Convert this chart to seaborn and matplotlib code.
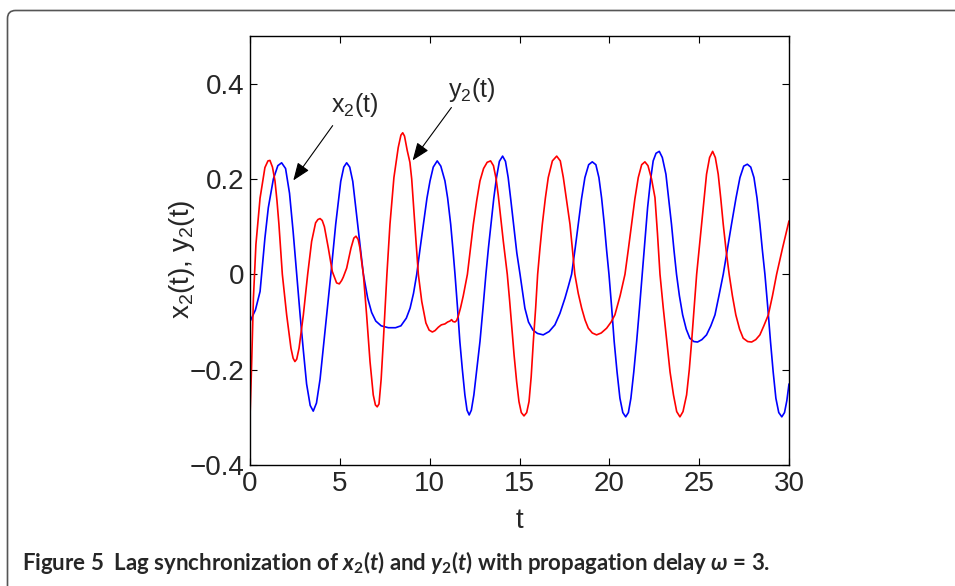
import matplotlib
matplotlib.use('Agg')
import matplotlib.pyplot as plt
import seaborn as sns
from matplotlib.patches import FancyBboxPatch
from matplotlib.transforms import IdentityTransform

# x2(t) (blue), values
t_x2 = [0, 0.3, 0.56, 0.83, 1.02, 1.3, 1.55, 1.76, 1.98, 2.2, 2.4, 2.6, 2.8, 2.97, 3.15, 3.35, 3.52,
        3.7, 3.9, 4.17, 4.5, 4.77, 5.05, 5.22, 5.38, 5.55, 5.72, 5.99, 6.31, 6.55, 6.77, 7.0, 7.3,
        7.7, 8.1, 8.4, 8.7, 8.91, 9.1, 9.28, 9.47, 9.65, 9.85, 10.02, 10.2, 10.42, 10.62, 10.85,
        11.0, 11.17, 11.3, 11.41, 11.55, 11.68, 11.82, 11.96, 12.08, 12.2, 12.32, 12.46, 12.62,
        12.8, 12.97, 13.13, 13.27, 13.41, 13.57, 13.72, 13.88, 14.06, 14.22, 14.37, 14.52, 14.67,
        14.85, 15.03, 15.3, 15.5, 15.75, 16.0, 16.32, 16.65, 16.97, 17.25, 17.53, 17.72, 17.9,
        18.1, 18.27, 18.45, 18.64, 18.85, 19.05, 19.25, 19.42, 19.57, 19.72, 19.85, 19.98, 20.13,
        20.27, 20.43, 20.59, 20.75, 20.91, 21.06, 21.2, 21.36, 21.52, 21.68, 21.83, 21.98, 22.13,
        22.3, 22.44, 22.6, 22.78, 22.95, 23.15, 23.3, 23.46, 23.6, 23.74, 23.9, 24.08, 24.28,
        24.48, 24.7, 24.91, 25.15, 25.41, 25.65, 25.88, 26.1, 26.34, 26.57, 26.8, 27.05, 27.27,
        27.48, 27.68, 27.87, 28.05, 28.22, 28.38, 28.52, 28.66, 28.82, 28.97, 29.12, 29.27,
        29.43, 29.6, 29.75, 29.88, 30.0]
x2 = [-0.099, -0.075, -0.036, 0.076, 0.14, 0.2, 0.228, 0.234, 0.222, 0.17, 0.09, 0.0, -0.09, -0.16,
      -0.23, -0.275, -0.287, -0.27, -0.22, -0.12, 0.0, 0.105, 0.195, 0.225, 0.234, 0.225, 0.195,
      0.105, 0.0, -0.05, -0.08, -0.098, -0.108, -0.112, -0.112, -0.108, -0.092, -0.071, -0.04,
      0.0, 0.055, 0.105, 0.16, 0.196, 0.225, 0.238, 0.227, 0.196, 0.16, 0.105, 0.05, 0.0, -0.07,
      -0.141, -0.2, -0.253, -0.285, -0.295, -0.285, -0.253, -0.2, -0.141, -0.07, 0.0, 0.055,
      0.105, 0.16, 0.203, 0.237, 0.248, 0.237, 0.203, 0.155, 0.105, 0.045, 0.0, -0.071, -0.1,
      -0.117, -0.124, -0.127, -0.12, -0.106, -0.082, -0.05, -0.025, 0.0, 0.055, 0.105, 0.158,
      0.203, 0.23, 0.236, 0.23, 0.203, 0.16, 0.105, 0.05, 0.0, -0.07, -0.141, -0.205, -0.26,
      -0.29, -0.299, -0.29, -0.26, -0.205, -0.141, -0.07, 0.0, 0.07, 0.14, 0.2, 0.238, 0.254,
      0.258, 0.245, 0.21, 0.16, 0.105, 0.05, 0.0, -0.045, -0.085, -0.115, -0.134, -0.141,
      -0.142, -0.137, -0.127, -0.108, -0.085, -0.045, 0.0, 0.053, 0.105, 0.16, 0.203, 0.227,
      0.231, 0.225, 0.203, 0.16, 0.105, 0.05, 0.0, -0.07, -0.141, -0.205, -0.26, -0.29, -0.299,
      -0.29, -0.265, -0.23]

# y2(t) (red)
t_y2 = [0, 0.09, 0.19, 0.33, 0.56, 0.83, 1.0, 1.11, 1.25, 1.39, 1.5, 1.61, 1.8, 2.04, 2.28, 2.4,
        2.5, 2.6, 2.73, 2.97, 3.21, 3.43, 3.65, 3.78, 3.9, 4.02, 4.14, 4.36, 4.58, 4.82, 4.97,
        5.1, 5.19, 5.38, 5.62, 5.78, 5.9, 6.02, 6.12, 6.22, 6.31, 6.49, 6.68, 6.86, 6.98, 7.08,
        7.18, 7.3, 7.42, 7.52, 7.62, 7.79, 8.01, 8.25, 8.4, 8.5, 8.6, 8.75, 8.9, 9.0, 9.09, 9.24,
        9.37, 9.56, 9.79, 9.97, 10.15, 10.3, 10.48, 10.65, 10.85, 11.0, 11.13, 11.22, 11.3,
        11.41, 11.5, 11.59, 11.72, 11.87, 12.1, 12.43, 12.62, 12.8, 13.0, 13.2, 13.39, 13.55,
        13.7, 13.82, 13.95, 14.1, 14.32, 14.45, 14.56, 14.7, 14.84, 14.97, 15.1, 15.25, 15.4,
        15.53, 15.65, 15.77, 15.9, 16.01, 16.14, 16.27, 16.44, 16.6, 16.83, 17.07, 17.27, 17.44,
        17.62, 17.81, 17.95, 18.08, 18.27, 18.46, 18.65, 18.83, 19.05, 19.29, 19.55, 19.85,
        20.1, 20.31, 20.6, 20.87, 21.06, 21.24, 21.42, 21.61, 21.8, 21.98, 22.15, 22.35, 22.54,
        22.68, 22.82, 23.0, 23.2, 23.38, 23.57, 23.75, 23.93, 24.1, 24.3, 24.45, 24.58, 24.72,
        24.86, 25.0, 25.14, 25.28, 25.41, 25.58, 25.75, 25.9, 26.06, 26.2, 26.34, 26.5, 26.67,
        26.85, 27.04, 27.25, 27.45, 27.7, 27.92, 28.15, 28.38, 28.6, 28.85, 29.08, 29.31,
        29.64, 30.0]
y2 = [-0.299, -0.19, -0.05, 0.063, 0.16, 0.224, 0.238, 0.239, 0.225, 0.196, 0.155, 0.105, 0.0,
      -0.085, -0.155, -0.176, -0.183, -0.178, -0.155, -0.085, 0.0, 0.069, 0.108, 0.115, 0.117,
      0.113, 0.1, 0.055, 0.006, -0.018, -0.02, -0.013, -0.006, 0.013, 0.055, 0.076, 0.08, 0.073,
      0.055, 0.025, 0.0, -0.085, -0.183, -0.253, -0.274, -0.278, -0.272, -0.22, -0.141, -0.07,
      0.0, 0.105, 0.203, 0.266, 0.292, 0.297, 0.29, 0.26, 0.235, 0.2, 0.15, 0.069, 0.0, -0.057,
      -0.102, -0.117, -0.121, -0.118, -0.111, -0.106, -0.104, -0.1, -0.098, -0.095, -0.099,
      -0.1, -0.097, -0.088, -0.07, -0.045, 0.0, 0.105, 0.155, 0.196, 0.222, 0.235, 0.238,
      0.228, 0.2, 0.165, 0.12, 0.069, 0.0, -0.055, -0.106, -0.17, -0.225, -0.267, -0.29,
      -0.297, -0.29, -0.267, -0.215, -0.141, -0.07, 0.0, 0.055, 0.105, 0.16, 0.203, 0.238,
      0.248, 0.238, 0.203, 0.155, 0.105, 0.05, 0.0, -0.04, -0.071, -0.096, -0.113, -0.123,
      -0.127, -0.123, -0.113, -0.1, -0.085, -0.045, 0.0, 0.053, 0.105, 0.158, 0.203, 0.23,
      0.236, 0.228, 0.2, 0.161, 0.085, 0.0, -0.07, -0.141, -0.205, -0.253, -0.288, -0.299,
      -0.288, -0.253, -0.2, -0.141, -0.07, 0.0, 0.053, 0.105, 0.16, 0.21, 0.245, 0.258, 0.245,
      0.21, 0.16, 0.105, 0.05, 0.0, -0.045, -0.085, -0.115, -0.134, -0.141, -0.142, -0.137,
      -0.127, -0.108, -0.085, -0.045, 0.0, 0.055, 0.112]

x_ticks = [0, 5, 10, 15, 20, 25, 30]
y_ticks = [-0.4, -0.2, 0, 0.2, 0.4]
y_tick_labels = ['\u22120.4', '\u22120.2', '0', '0.2', '0.4']

sns.set_style('white')
plt.rcParams['font.family'] = ['Liberation Sans', 'DejaVu Sans']
plt.rcParams['mathtext.fontset'] = 'custom'
plt.rcParams['mathtext.rm'] = 'Lato:bold'
plt.rcParams['mathtext.it'] = 'Lato:italic:bold'
plt.rcParams['mathtext.bf'] = 'Lato:bold'

fig = plt.figure(figsize=(9.55, 5.86), dpi=100)
ax = fig.add_axes([250 / 955, 1 - 465 / 586, 539 / 955, 429 / 586])

sns.lineplot(x=t_x2, y=x2, color='#0000ff', lw=1.2, sort=False, estimator=None, ax=ax)
sns.lineplot(x=t_y2, y=y2, color='#ff0000', lw=1.2, sort=False, estimator=None, ax=ax)

ax.set_xlim(0, 30)
ax.set_ylim(-0.4, 0.5)
ax.set_xticks(x_ticks)
ax.set_xticklabels([str(v) for v in x_ticks])
ax.set_yticks(y_ticks)
ax.set_yticklabels(y_tick_labels)
ax.tick_params(direction='in', length=5, width=0.8, labelsize=20, color='black',
               top=True, right=True, bottom=True, left=True, pad=4)
for s in ax.spines.values():
    s.set_visible(True)
    s.set_color('black')
    s.set_linewidth(1.0)

ax.set_xlabel('t', fontsize=20, labelpad=8)
ax.set_ylabel(r'$\mathregular{x_2}$(t), $\mathregular{y_2}$(t)', fontsize=20)
ax.yaxis.set_label_coords(-0.098, 0.48)

arrow = dict(arrowstyle='-|>,head_length=0.9,head_width=0.35', color='black', lw=0.8,
             mutation_scale=12, shrinkA=0, shrinkB=0)
ax.annotate('', xy=(2.41, 0.197), xytext=(4.6, 0.312), arrowprops=arrow)
ax.annotate('', xy=(9.05, 0.239), xytext=(11.21, 0.350), arrowprops=arrow)
ax.text(5.8, 0.356, r'$\mathregular{x_2}$(t)', fontsize=18, ha='center', va='center')
ax.text(12.35, 0.387, r'$\mathregular{y_2}$(t)', fontsize=18, ha='center', va='center')

# caption + page frame
fig.text(22 / 955, 1 - 562 / 586,
         r'Figure 5  Lag synchronization of $x_2(t)$ and $y_2(t)$ with propagation delay $\omega$ = 3.',
         fontsize=16, fontweight='bold', family=['Lato', 'DejaVu Sans'], va='center', ha='left')
frame = FancyBboxPatch((7.5, -50), 1000, 625.5, boxstyle='round,pad=0,rounding_size=8',
                       transform=IdentityTransform(), fill=False, edgecolor='#555555', lw=1.2)
fig.patches.append(frame)

fig.savefig('out.png', dpi=100)
